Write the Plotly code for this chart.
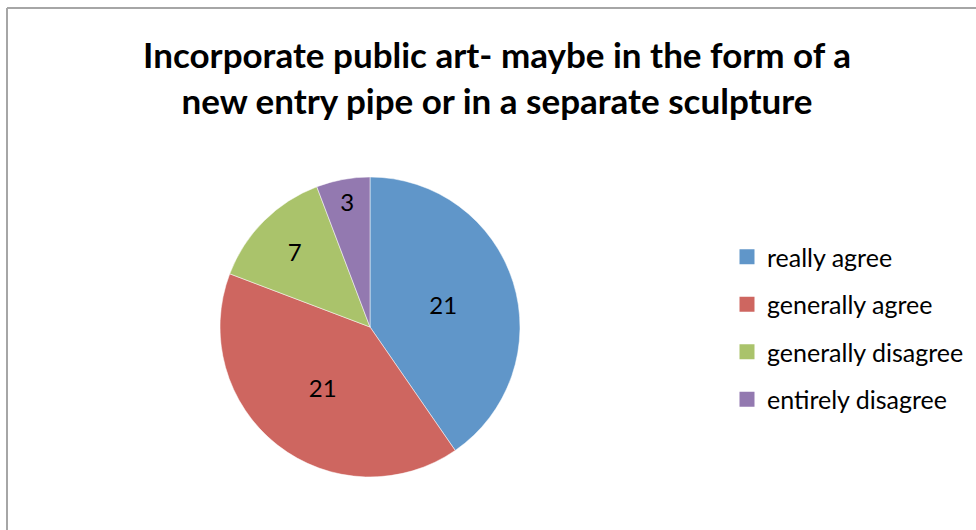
import plotly.graph_objects as go

categories = ["really agree", "generally agree", "generally disagree", "entirely disagree"]
values = [21, 21, 7, 3]
colors = ["#6096C9", "#CE6660", "#AAC36B", "#9379B0"]
title_lines = ["Incorporate public art- maybe in the form of a", "new entry pipe or in a separate sculpture"]

FONT = "Lato, Open Sans, sans-serif"

fig = go.Figure()
fig.add_trace(go.Pie(
    labels=categories, values=values, sort=False, direction="clockwise", rotation=0,
    marker=dict(colors=colors, line=dict(color="white", width=0.5)),
    textinfo="value", textposition="inside", insidetextorientation="horizontal",
    textfont=dict(family=FONT, size=24, color="black"),
    domain=dict(x=[220/976, 520/976], y=[1-477/530, 1-177/530]),
    showlegend=False, hoverinfo="label+value",
))
for i, (c, col) in enumerate(zip(categories, colors)):
    fig.add_trace(go.Scatter(
        x=[None], y=[None], mode="markers", name=c, legendgroup=f"g{i}",
        marker=dict(symbol="square", size=15, color=col),
    ))

fig.update_layout(
    width=976, height=530,
    margin=dict(l=0, r=0, t=0, b=0),
    paper_bgcolor="white", plot_bgcolor="white",
    title=dict(text="<br>".join(title_lines), x=497/976, xanchor="center",
               y=1-68/530, yanchor="middle",
               font=dict(family=FONT, size=35, color="black", weight="bold")),
    xaxis=dict(visible=False), yaxis=dict(visible=False),
    legend=dict(x=727/976, xanchor="left", y=1-328/530, yanchor="middle",
                font=dict(family=FONT, size=25, color="black"),
                tracegroupgap=12, traceorder="grouped", itemsizing="trace"),
    shapes=[
        dict(type="line", xref="paper", yref="paper", x0=7/976, x1=1.0, y0=1-8/530, y1=1-8/530,
             line=dict(color="#A6A6A6", width=2)),
        dict(type="line", xref="paper", yref="paper", x0=7/976, x1=7/976, y0=1-8/530, y1=0,
             line=dict(color="#A6A6A6", width=2)),
    ],
)
fig.write_html("out.html", config={"displayModeBar": False},
               post_script="document.body.style.margin='0';")
